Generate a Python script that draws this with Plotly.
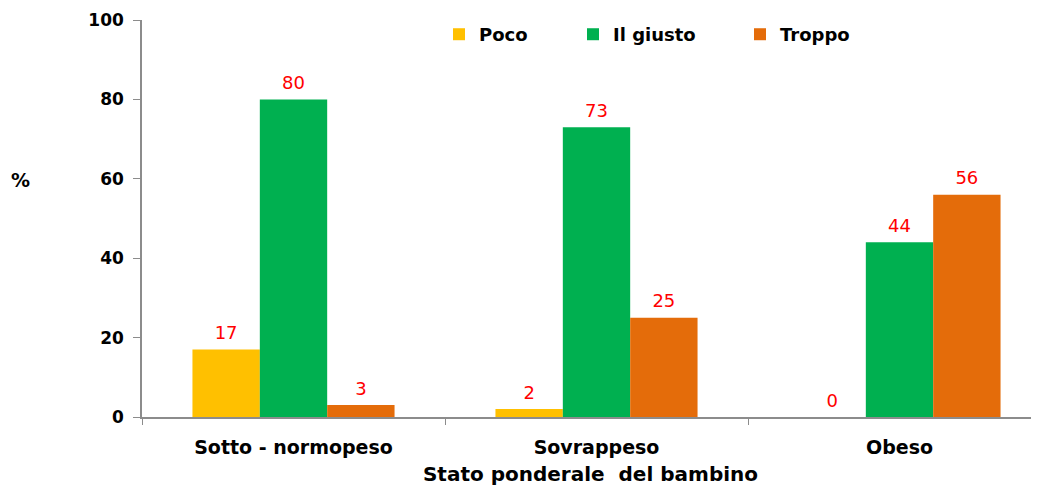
import plotly.graph_objects as go

categories = ["Sotto - normopeso", "Sovrappeso", "Obeso"]
series_names = ["Poco", "Il giusto", "Troppo"]
poco = [17, 2, 0]
giusto = [80, 73, 44]
troppo = [3, 25, 56]
colors = ["#FFC000", "#00B050", "#E46C0A"]
y_ticks = [0, 20, 40, 60, 80, 100]

W, H = 1031, 478
L, T, B = 134, 12, 69
plot_w = W - L
plot_h = H - T - B

legend_ids = ["legend", "legend2", "legend3"]
legend_x_px = [431, 565, 732]  # left edges in figure px

fig = go.Figure()
for name, vals, col, lg in zip(series_names, [poco, giusto, troppo], colors, legend_ids):
    fig.add_trace(go.Bar(
        x=categories, y=vals, name=name, marker_color=col, marker_line_width=0,
        legend=lg, offsetgroup=name,
    ))
for name, vals in zip(series_names, [poco, giusto, troppo]):
    fig.add_trace(go.Scatter(
        x=categories, y=vals, mode="markers+text", text=[str(v) for v in vals],
        textposition="top center", cliponaxis=False, showlegend=False,
        marker=dict(size=8, opacity=0), offsetgroup=name, hoverinfo="skip",
        textfont=dict(family="DejaVu Sans", size=18, color="#FF0000"),
    ))

legend_common = dict(orientation="h", yanchor="top", xanchor="left",
                     font=dict(family="DejaVu Sans", size=18, color="black", weight="bold"),
                     itemwidth=30, bgcolor="rgba(0,0,0,0)")
layout_legends = {}
for lg, xp in zip(legend_ids, legend_x_px):
    layout_legends[lg] = dict(legend_common, x=(xp - L) / plot_w, y=1.01)

fig.update_layout(
    width=W, height=H,
    margin=dict(l=L, r=0, t=T, b=B),
    plot_bgcolor="white", paper_bgcolor="white",
    barmode="group", bargap=0.333, bargroupgap=0,
    scattermode="group", scattergap=0.333,
    font=dict(family="DejaVu Sans", size=15, color="black"),
    showlegend=True,
    **layout_legends,
)
fig.update_xaxes(
    range=[-0.5, -0.5 + plot_w / 303], showline=True, linecolor="#8C8C8C", linewidth=1.5,
    ticks="outside", tickson="boundaries", ticklen=6, tickcolor="#8C8C8C",
    ticklabelstandoff=12,
    tickfont=dict(family="DejaVu Sans", size=19, color="black", weight="bold"),
    title=dict(text="Stato ponderale  del bambino", standoff=15,
               font=dict(family="DejaVu Sans", size=20, color="black", weight="bold")),
    showgrid=False,
)
fig.update_yaxes(
    range=[0, 100], tickvals=y_ticks, showline=True, linecolor="#8C8C8C", linewidth=1.5,
    ticks="outside", ticklen=7, tickcolor="#8C8C8C", showgrid=False, zeroline=False,
    ticklabelstandoff=6,
    tickfont=dict(family="DejaVu Sans", size=17, color="black", weight="bold"),
)
fig.add_annotation(text="%", xref="paper", yref="paper", showarrow=False,
                   x=(1 - L) / plot_w, y=(409 - 172) / plot_h,
                   font=dict(family="DejaVu Sans", size=19, color="black", weight="bold"))
fig.write_html("out.html")
